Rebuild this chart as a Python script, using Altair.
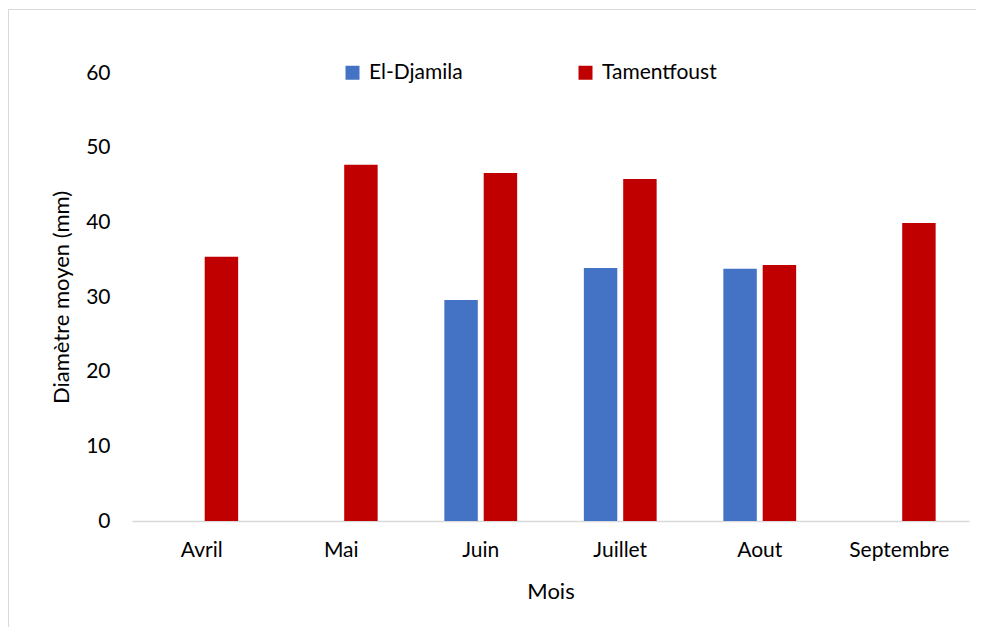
import altair as alt
import pandas as pd

mois = ["Avril", "Mai", "Juin", "Juillet", "Aout", "Septembre"]
el_djamila = [None, None, 29.6, 33.9, 33.8, None]
tamentfoust = [35.4, 47.7, 46.6, 45.8, 34.3, 39.9]
series = ["El-Djamila", "Tamentfoust"]
colors = ["#4472C4", "#C00000"]

rows = []
for m, a, b in zip(mois, el_djamila, tamentfoust):
    if a is not None:
        rows.append({"Mois": m, "Site": series[0], "Valeur": a})
    if b is not None:
        rows.append({"Mois": m, "Site": series[1], "Valeur": b})
df = pd.DataFrame(rows)

FONT = "Lato"

bars = alt.Chart(df).mark_bar().encode(
    x=alt.X("Mois:N", sort=mois, title="Mois",
            scale=alt.Scale(paddingInner=0.45, paddingOuter=0.225),
            axis=alt.Axis(labelAngle=0, ticks=False, domainColor="#d9d9d9",
                          domainWidth=1.5, labelPadding=18, titlePadding=21,
                          labelFontSize=21, titleFontSize=22, grid=False)),
    xOffset=alt.XOffset("Site:N", sort=series,
                        scale=alt.Scale(domain=series, paddingInner=0.15, paddingOuter=0.05)),
    y=alt.Y("Valeur:Q", title="Diamètre moyen (mm)",
            scale=alt.Scale(domain=[0, 60]),
            axis=alt.Axis(values=[0, 10, 20, 30, 40, 50, 60], ticks=False, domain=False,
                          grid=False, labelPadding=22, titlePadding=12,
                          labelFontSize=21, titleFontSize=22)),
    color=alt.Color("Site:N", sort=series,
                    scale=alt.Scale(domain=series, range=colors),
                    legend=alt.Legend(title=None, orient="none", legendX=210, legendY=-11,
                                      direction="horizontal", symbolType="square",
                                      symbolSize=196, labelFontSize=21, gridAlign="all",
                                      columnPadding=91, labelOffset=6,
                                      symbolStrokeWidth=0)),
)

frame_df = pd.DataFrame({"f": [0]})
top_border = alt.Chart(frame_df).mark_rule(stroke="#d9d9d9", strokeWidth=1).encode(
    x=alt.value(-124), x2=alt.value(900), y=alt.value(-63.5))
left_border = alt.Chart(frame_df).mark_rule(stroke="#d9d9d9", strokeWidth=1).encode(
    x=alt.value(-123.5), y=alt.value(-64), y2=alt.value(600))

chart = alt.layer(top_border, left_border, bars).properties(
    width=837, height=448,
    autosize=alt.AutoSizeParams(type="none"),
    padding={"left": 124, "top": 65, "right": 7, "bottom": 106},
).configure(font=FONT).configure_view(stroke=None).configure_axis(
    labelColor="#000000", titleColor="#000000", titleFontWeight="normal"
).configure_legend(labelColor="#000000")

chart.save("out.html", embed_options={"renderer": "svg", "actions": False})
